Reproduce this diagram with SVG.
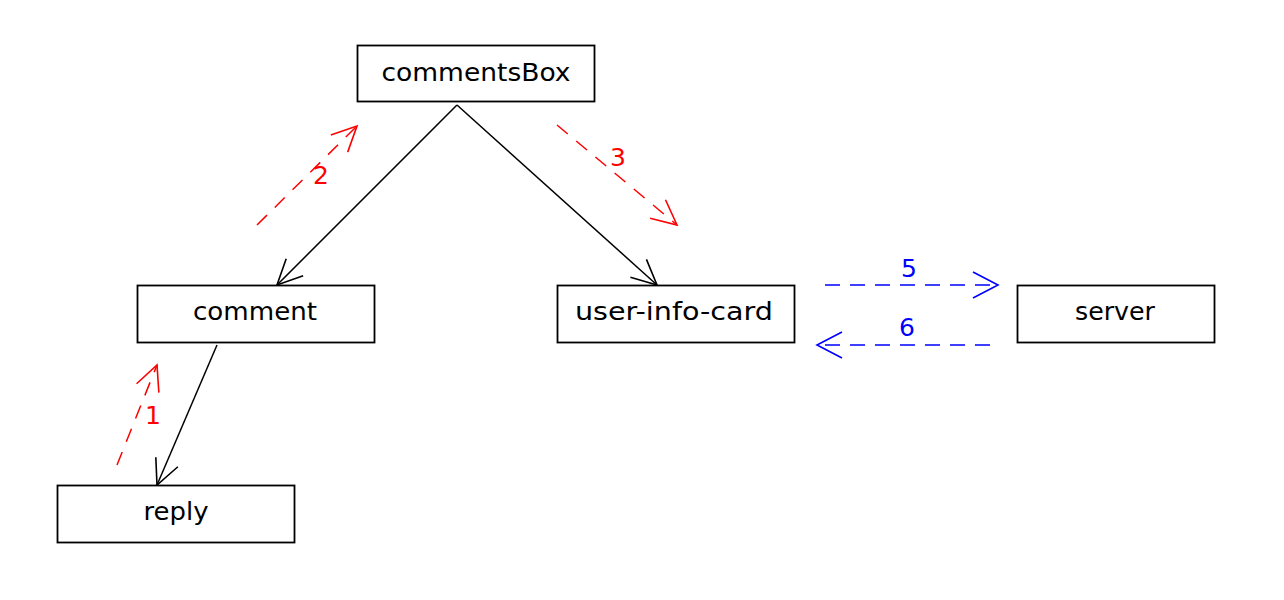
<svg xmlns="http://www.w3.org/2000/svg" width="1284" height="600" viewBox="0 0 1284 600">
<style>
.box{fill:#fff;stroke:#000;stroke-width:1.8}
.lbl{font-family:"DejaVu Sans","Liberation Sans",sans-serif;font-size:25px;fill:#000;text-anchor:middle}
.num{font-family:"DejaVu Sans","Liberation Sans",sans-serif;font-size:25px;text-anchor:middle}
.blk{stroke:#000;stroke-width:1.5;fill:none}
.red{stroke:#f00;stroke-width:1.5;fill:none;stroke-dasharray:14 11}
.blu{stroke:#00f;stroke-width:1.5;fill:none;stroke-dasharray:15 10}
</style>
<defs>
<marker id="ab" markerUnits="userSpaceOnUse" viewBox="-28 -15 30 30" refX="0" refY="0" markerWidth="30" markerHeight="30" orient="auto">
<path d="M-25,-12 L0,0 L-25,12" fill="none" stroke="#000" stroke-width="1.6"/>
</marker>
<marker id="ar" markerUnits="userSpaceOnUse" viewBox="-28 -15 30 30" refX="0" refY="0" markerWidth="30" markerHeight="30" orient="auto">
<path d="M-25,-12 L0,0 L-25,12" fill="none" stroke="#f00" stroke-width="1.6"/>
</marker>
<marker id="au" markerUnits="userSpaceOnUse" viewBox="-28 -15 30 30" refX="0" refY="0" markerWidth="30" markerHeight="30" orient="auto">
<path d="M-25,-13 L0,0 L-25,13" fill="none" stroke="#00f" stroke-width="1.6"/>
</marker>
</defs>
<g id="connectors">
<line class="blk" x1="457" y1="105" x2="277" y2="285" marker-end="url(#ab)"/>
<line class="blk" x1="457" y1="105" x2="657" y2="285" marker-end="url(#ab)"/>
<line class="blk" x1="217" y1="345" x2="157" y2="485" marker-end="url(#ab)"/>
<line class="red" x1="257" y1="225" x2="357" y2="126" marker-end="url(#ar)"/>
<text class="num" x="321" y="184" fill="#f00">2</text>
<line class="red" x1="557" y1="125" x2="677" y2="225" marker-end="url(#ar)"/>
<text class="num" x="618" y="166" fill="#f00">3</text>
<line class="red" x1="117" y1="465" x2="157" y2="365" marker-end="url(#ar)"/>
<text class="num" x="153" y="424" fill="#f00">1</text>
<line class="blu" x1="825" y1="285" x2="998" y2="285" marker-end="url(#au)"/>
<text class="num" x="909" y="277" fill="#00f">5</text>
<line class="blu" x1="990" y1="345" x2="817" y2="345" marker-end="url(#au)"/>
<text class="num" x="907" y="336" fill="#00f">6</text>
</g>
<g id="commentsBox">
<rect class="box" x="357.5" y="45.5" width="237" height="56"/>
<text class="lbl" x="476" y="81" textLength="189" lengthAdjust="spacingAndGlyphs">commentsBox</text>
</g>
<g id="comment">
<rect class="box" x="137.5" y="285.5" width="237" height="57"/>
<text class="lbl" x="255" y="320" textLength="124" lengthAdjust="spacingAndGlyphs">comment</text>
</g>
<g id="user-info-card">
<rect class="box" x="557.5" y="285.5" width="237" height="57"/>
<text class="lbl" x="674" y="320" textLength="198" lengthAdjust="spacingAndGlyphs">user-info-card</text>
</g>
<g id="server">
<rect class="box" x="1017.5" y="285.5" width="197" height="57"/>
<text class="lbl" x="1115" y="320" textLength="80" lengthAdjust="spacingAndGlyphs">server</text>
</g>
<g id="reply">
<rect class="box" x="57.5" y="485.5" width="237" height="57"/>
<text class="lbl" x="176" y="520" textLength="65" lengthAdjust="spacingAndGlyphs">reply</text>
</g>
</svg>
